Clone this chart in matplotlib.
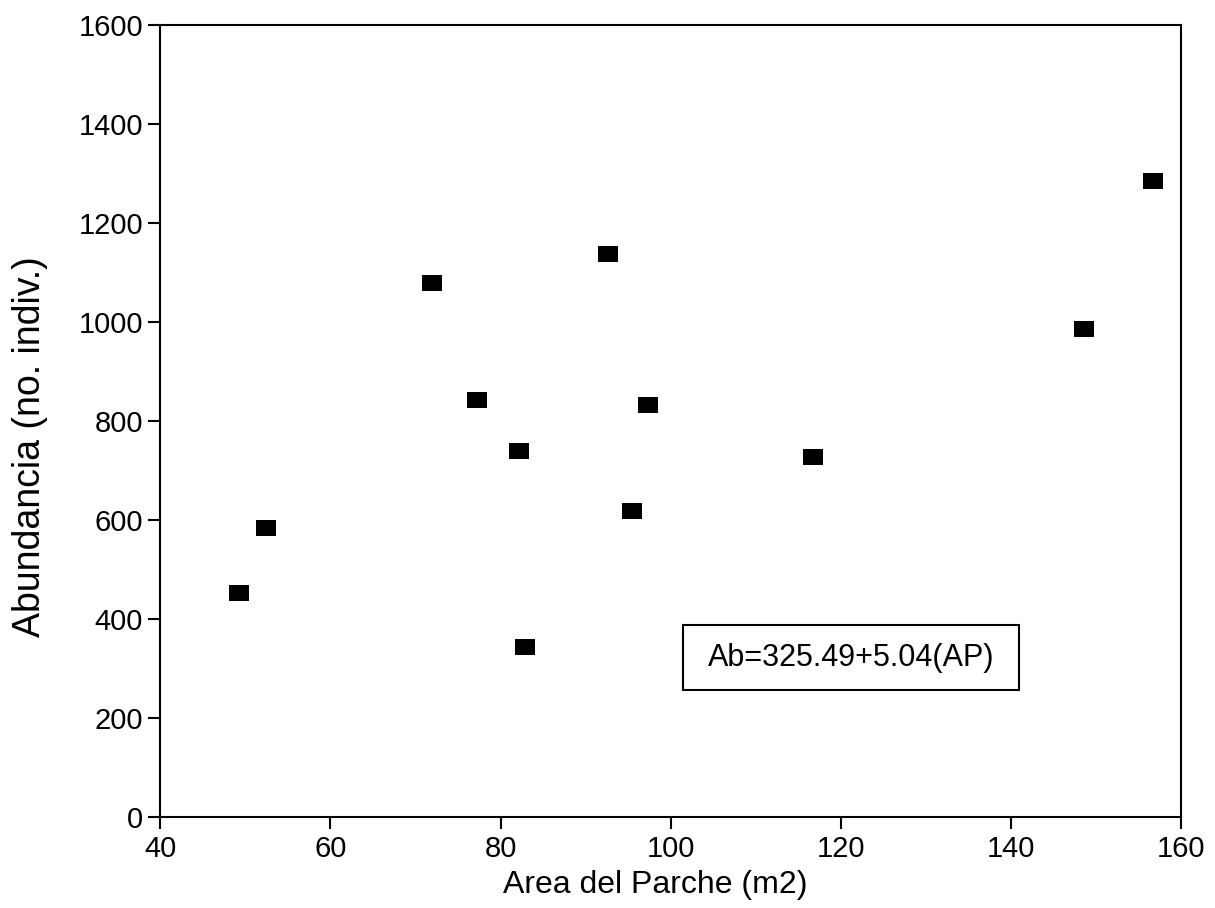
import matplotlib.pyplot as plt
import numpy as np
from matplotlib.patches import Rectangle

plt.rcParams['font.family'] = ['Liberation Sans', 'DejaVu Sans']

# patch area (m2) and abundance (no. individuals)
area = [49.2, 52.4, 71.9, 77.2, 82.2, 82.9, 92.6, 95.5, 97.3, 116.7, 148.6, 156.7]
abundance = [453, 585, 1080, 843, 740, 343, 1138, 618, 833, 728, 986, 1285]

x_ticks = [40, 60, 80, 100, 120, 140, 160]
y_ticks = [0, 200, 400, 600, 800, 1000, 1200, 1400, 1600]

fig = plt.figure(figsize=(12.15, 9.08), dpi=100)
ax = fig.add_axes([0.132, 0.100, 0.840, 0.872])

# wide rectangular marker
rect = np.array([[-1.25, -1], [1.25, -1], [1.25, 1], [-1.25, 1], [-1.25, -1]])
ax.plot(area, abundance, linestyle='none', marker=rect, markersize=15,
        color='black', markeredgewidth=0)

ax.set_xlim(40, 160)
ax.set_ylim(0, 1600)
ax.set_xticks(x_ticks)
ax.set_yticks(y_ticks)
ax.tick_params(direction='out', length=8.5, width=1.5, labelsize=21, pad=4)
for s in ax.spines.values():
    s.set_linewidth(1.5)

ax.set_xlabel('Area del Parche (m2)', fontsize=23)
ax.set_ylabel('Abundancia (no. indiv.)', fontsize=27)
ax.xaxis.set_label_coords(0.485, -0.067)
ax.yaxis.set_label_coords(-0.110, 0.468)

# regression equation in a framed box
ax.add_patch(Rectangle((101.5, 257), 39.4, 131, facecolor='white',
                       edgecolor='black', linewidth=1.5, zorder=3))
ax.text(121.2, 322, 'Ab=325.49+5.04(AP)', fontsize=22, ha='center', va='center',
        zorder=4)

fig.savefig('out.png', dpi=100)
